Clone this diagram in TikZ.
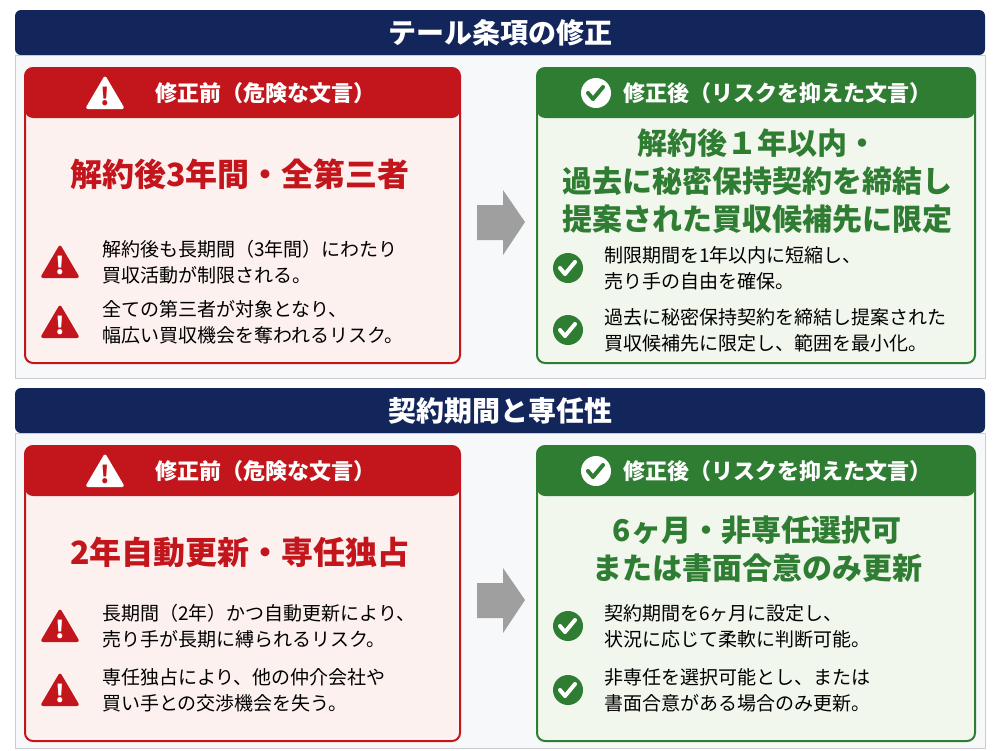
\documentclass[tikz,border=0pt]{standalone}
\usepackage{fontspec}
\setmainfont{Noto Sans CJK JP}
\usetikzlibrary{positioning}
\definecolor{navy}{HTML}{13265C}
\definecolor{redd}{HTML}{C3161C}
\definecolor{pinkbg}{HTML}{FDF1F0}
\definecolor{grn}{HTML}{2F7D32}
\definecolor{grnbg}{HTML}{F2F7EE}
\definecolor{panel}{HTML}{F7F8FA}

\newcommand*{\warnsign}[3]{% position, fill colour, mark colour
    \fill[#2,rounded corners=1.5pt] #1 ++(0,-18) -- ++(20,34) -- ++(-40,0) -- cycle;
    \node[text=#3,font=\bfseries\large,yshift=-1.5pt] at #1 {!};
}
\newcommand*{\checksign}[3]{% position, fill colour, mark colour
    \fill[#2] #1 circle[radius=15];
    \draw[line width=2pt,line cap=round,line join=round,#3] #1 ++(-8,0) -- ++(5,6) -- ++(10,-12);
}
\newcommand*{\badpoint}[2]{% y, text
    \warnsign{(60,#1)}{redd}{white}
    \node[body] at (95,#1) {#2};
}
\newcommand*{\goodpoint}[2]{% y, text
    \checksign{(568,#1)}{grn}{white}
    \node[body] at (597,#1) {#2};
}

\tikzset{
    bar/.style={fill=navy,rounded corners=3pt},
    bartext/.style={text=white,font=\bfseries\fontsize{14}{16}\selectfont},
    panelbox/.style={fill=panel,draw=gray!40},
    badbox/.style={fill=pinkbg,draw=redd,line width=1pt,rounded corners=4pt},
    goodbox/.style={fill=grnbg,draw=grn,line width=1pt,rounded corners=4pt},
    boxhead/.style={text=white,font=\bfseries\fontsize{11}{13}\selectfont},
    badbig/.style={text=redd,font=\bfseries\fontsize{16}{18}\selectfont},
    goodbig/.style={text=grn,font=\bfseries\fontsize{15}{19}\selectfont,align=center},
    body/.style={anchor=west,align=left,font=\fontsize{9.5}{13}\selectfont},
    arrowshape/.style={fill=gray!75},
}

\newcommand*{\comparison}[6]{% yshift, title, badbig, goodbig y, goodbig, panel bottom
\begin{scope}[shift={(0,#1)}]
    \fill[bar] (15,10) rectangle (985,55);
    \node[bartext] (title) at (500,33) {#2};
    \draw[panelbox] (15,55) rectangle (985,#6);
    % before
    \draw[badbox] (25,68) rectangle (460,363);
    \fill[redd,rounded corners=4pt] (25,68) rectangle (460,118);
    \warnsign{(105,93)}{white}{redd}
    \node[boxhead] (badhead) at (265,93) {修正前（危険な文言）};
    \node[badbig] (badmain) at (240,174) {#3};
    % arrow
    \fill[arrowshape] (477,205) -- (503,205) -- (503,190) -- (525,222) -- (503,255) -- (503,240) -- (477,240) -- cycle;
    % after
    \draw[goodbox] (537,68) rectangle (975,363);
    \fill[grn,rounded corners=4pt] (537,68) rectangle (975,118);
    \checksign{(596,93)}{white}{grn}
    \node[boxhead] (goodhead) at (777,93) {修正後（リスクを抑えた文言）};
    \node[goodbig] (goodmain) at (757,#4) {#5};
\end{scope}
}

\begin{document}
\begin{tikzpicture}[x=0.5pt,y=-0.5pt]
    \useasboundingbox (0,0) rectangle (1000,750);
    \comparison{0}{テール条項の修正}{解約後3年間・全第三者}%
        {181}{解約後１年以内・\\過去に秘密保持契約を締結し\\提案された買収候補先に限定}{378}
    \badpoint{262}{解約後も長期間（3年間）にわたり\\買収活動が制限される。}
    \badpoint{322}{全ての第三者が対象となり、\\幅広い買収機会を奪われるリスク。}
    \goodpoint{268}{制限期間を1年以内に短縮し、\\売り手の自由を確保。}
    \goodpoint{330}{過去に秘密保持契約を締結し提案された\\買収候補先に限定し、範囲を最小化。}
    \comparison{378}{契約期間と専任性}{2年自動更新・専任独占}%
        {171}{6ヶ月・非専任選択可\\または書面合意のみ更新}{370}
    \badpoint{626}{長期間（2年）かつ自動更新により、\\売り手が長期に縛られるリスク。}
    \badpoint{690}{専任独占により、他の仲介会社や\\買い手との交渉機会を失う。}
    \goodpoint{626}{契約期間を6ヶ月に設定し、\\状況に応じて柔軟に判断可能。}
    \goodpoint{690}{非専任を選択可能とし、または\\書面合意がある場合のみ更新。}
\end{tikzpicture}
\end{document}
